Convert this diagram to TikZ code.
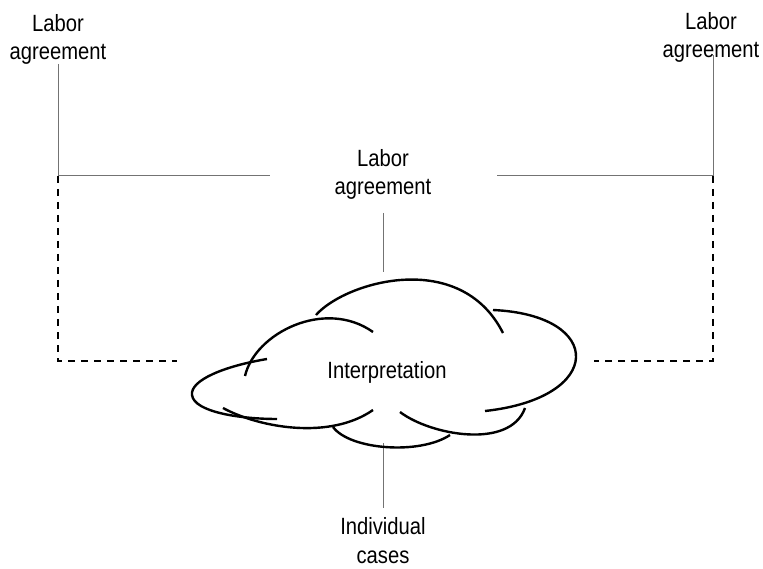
\documentclass[tikz,border=0pt]{standalone}
\usepackage{fontspec}
\setmainfont{Liberation Sans}
\tikzset{
  lbl/.style={font=\fontsize{23.5}{28.5}\selectfont, align=center, inner sep=0pt, xscale=0.86},
  guide/.style={draw=black!55, line width=1pt},
  dashline/.style={draw=black, line width=2.4pt, dash pattern=on 7pt off 6pt},
  cloudline/.style={draw=black, line width=2.4pt}
}
\begin{document}
\begin{tikzpicture}[x=1pt,y=-1pt]
\useasboundingbox (0,0) rectangle (763,569);
% labels (base = baseline of the last line)
\node[lbl, anchor=base] (tl) at (58,60) {Labor\\agreement};
\node[lbl, anchor=base] (tr) at (711,58) {Labor\\agreement};
\node[lbl, anchor=base] (mid) at (383,195) {Labor\\agreement};
\node[lbl, anchor=base] (bot) at (383,563) {Individual\\cases};
\node[lbl, anchor=base] (interp) at (387,378) {Interpretation};
% coordinates
\coordinate (tlline) at (58,64);
\coordinate (cL) at (58,176);
\coordinate (hL) at (270,176);
\coordinate (hR) at (497,176);
\coordinate (cR) at (713,176);
\coordinate (trline) at (713,55);
\coordinate (eL) at (177,361);
\coordinate (eR) at (594,361);
\coordinate (midline) at (383,213);
\coordinate (ctop) at (383,272);
\coordinate (cbot) at (383,443);
\coordinate (botline) at (383,508);
% guides
\draw[guide] (tlline) -- (cL) -- (hL);
\draw[guide] (hR) -- (cR) -- (trline);
\draw[guide] (midline) -- (ctop);
\draw[guide] (cbot) -- (botline);
% dashed
\draw[dashline] (cL) |- (eL);
\draw[dashline] (cR) |- (eR);
% cloud
\draw[cloudline] (316,315) .. controls (345,282) and (460,248) .. (503,333);
\draw[cloudline] (493,310) .. controls (605,315) and (605,398) .. (485,411);
\draw[cloudline] (400,412) .. controls (430,435) and (510,450) .. (525,408);
\draw[cloudline] (333,427) .. controls (350,450) and (420,455) .. (450,435);
\draw[cloudline] (223,408) .. controls (260,428) and (330,440) .. (373,410);
\draw[cloudline] (267,359) .. controls (225,366) and (190,380) .. (192,395) .. controls (194,412) and (240,419) .. (277,419);
\draw[cloudline] (245,376) .. controls (255,333) and (325,298) .. (373,332);
\end{tikzpicture}
\end{document}
